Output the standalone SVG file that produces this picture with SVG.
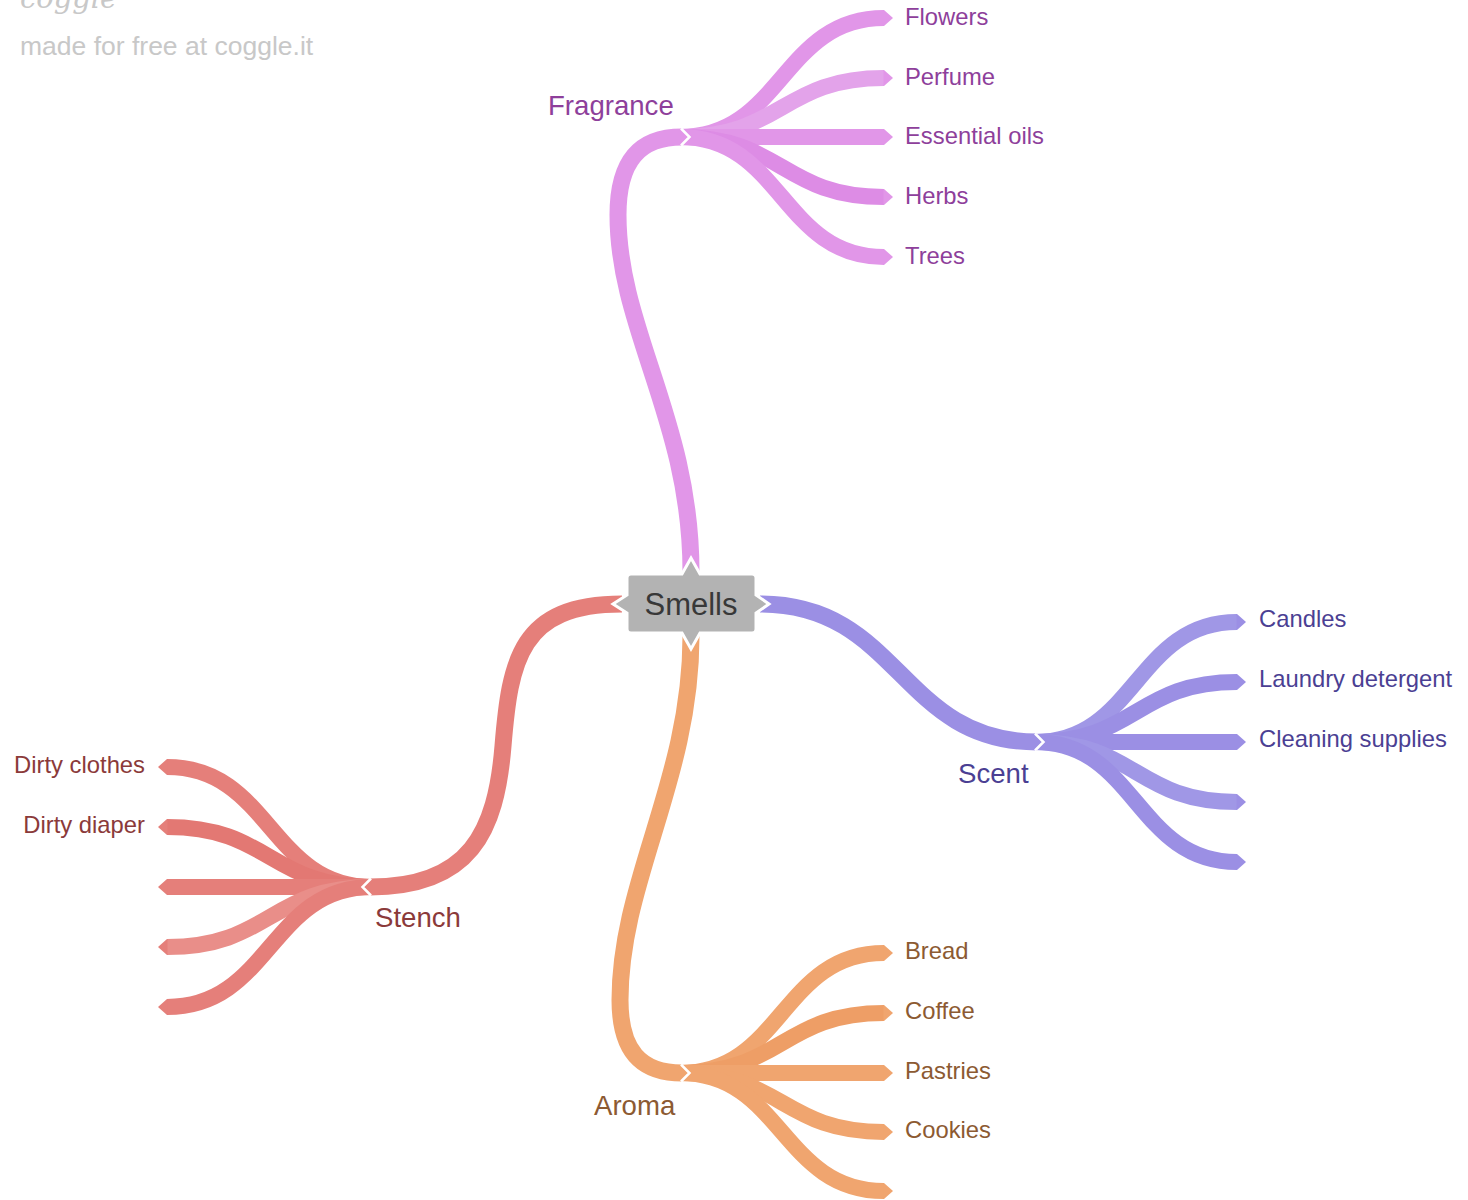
<svg xmlns="http://www.w3.org/2000/svg" width="1468" height="1200" viewBox="0 0 1468 1200">
<style>
  text { font-family: "Liberation Sans", Arial, sans-serif; }
  .br { fill: none; stroke-linecap: butt; }
  .main { stroke-width: 17; }
  .child { stroke-width: 16; }
  .pink { stroke: #e196e8; }
  .blue { stroke: #9b8fe4; }
  .red { stroke: #e57f7a; }
  .orange { stroke: #f0a56f; }
  .notch { fill: none; stroke: #ffffff; stroke-width: 2.5; stroke-linejoin: miter; }
  .lbl { font-size: 23.8px; }
  .mlbl { font-size: 27.6px; }
  .tp { fill: #8e3f9b; }
  .tb { fill: #4b3f93; }
  .tr { fill: #8b3a3a; }
  .to { fill: #8c5a32; }
</style>
<defs>
  <marker id="tipPink" markerUnits="userSpaceOnUse" markerWidth="12" markerHeight="16" refX="0" refY="8" orient="auto" overflow="visible">
    <path d="M-0.5,0 L0,0 L9,8 L0,16 L-0.5,16 Z" fill="#e196e8"/>
  </marker>
  <marker id="tipBlue" markerUnits="userSpaceOnUse" markerWidth="12" markerHeight="16" refX="0" refY="8" orient="auto" overflow="visible">
    <path d="M-0.5,0 L0,0 L9,8 L0,16 L-0.5,16 Z" fill="#9b8fe4"/>
  </marker>
  <marker id="tipRed" markerUnits="userSpaceOnUse" markerWidth="12" markerHeight="16" refX="0" refY="8" orient="auto" overflow="visible">
    <path d="M-0.5,0 L0,0 L9,8 L0,16 L-0.5,16 Z" fill="#e57f7a"/>
  </marker>
  <marker id="tipOrange" markerUnits="userSpaceOnUse" markerWidth="12" markerHeight="16" refX="0" refY="8" orient="auto" overflow="visible">
    <path d="M-0.5,0 L0,0 L9,8 L0,16 L-0.5,16 Z" fill="#f0a56f"/>
  </marker>
</defs>
<rect width="1468" height="1200" fill="#ffffff"/>

<g id="watermark">
  <text x="20" y="8" font-size="29" font-style="italic" fill="#c8c8c8" style="font-family:'DejaVu Serif', serif">coggle</text>
  <text x="20" y="55" font-size="26.5" fill="#c8c8c8">made for free at coggle.it</text>
</g>

<g id="connectors">
  <!-- main branches -->
  <path class="br main pink" d="M691,572 C691,420 618,330 618,215 C618,160 640,137 682,137"/>
  <path class="br main blue" d="M760,604 C900,604 900,742 1037,742"/>
  <path class="br main red" d="M622,604 C520,604 510,660 503,746 C496,832 470,887 370,887"/>
  <path class="br main orange" d="M691,636 C691,780 620,880 620,1000 C620,1050 640,1073 682,1073"/>

  <!-- fragrance children -->
  <path class="br child pink" d="M680,137 C782,137 782,18 884,18" marker-end="url(#tipPink)"/>
  <path class="br child pink" d="M680,137 C782,137 782,78 884,78" marker-end="url(#tipPink)" style="stroke:#e3a3ea"/>
  <path class="br child pink" d="M680,137 L884,137" marker-end="url(#tipPink)"/>
  <path class="br child pink" d="M680,137 C782,137 782,197 884,197" marker-end="url(#tipPink)" style="stroke:#dd8ce5"/>
  <path class="br child pink" d="M680,137 C782,137 782,257 884,257" marker-end="url(#tipPink)"/>
  <polyline class="notch" points="681,128.5 689.5,137 681,145.5"/>

  <!-- scent children -->
  <path class="br child blue" d="M1035,742 C1136,742 1136,622 1237,622" marker-end="url(#tipBlue)" style="stroke:#a097e6"/>
  <path class="br child blue" d="M1035,742 C1136,742 1136,682 1237,682" marker-end="url(#tipBlue)"/>
  <path class="br child blue" d="M1035,742 L1237,742" marker-end="url(#tipBlue)"/>
  <path class="br child blue" d="M1035,742 C1136,742 1136,802 1237,802" marker-end="url(#tipBlue)" style="stroke:#a097e6"/>
  <path class="br child blue" d="M1035,742 C1136,742 1136,862 1237,862" marker-end="url(#tipBlue)"/>
  <polyline class="notch" points="1035,733.5 1043.5,742 1035,750.5"/>

  <!-- stench children -->
  <path class="br child red" d="M372,887 C270,887 270,767 167,767" marker-end="url(#tipRed)"/>
  <path class="br child red" d="M372,887 C270,887 270,827 167,827" marker-end="url(#tipRed)" style="stroke:#e37873"/>
  <path class="br child red" d="M372,887 L167,887" marker-end="url(#tipRed)"/>
  <path class="br child red" d="M372,887 C270,887 270,947 167,947" marker-end="url(#tipRed)" style="stroke:#e98e89"/>
  <path class="br child red" d="M372,887 C270,887 270,1007 167,1007" marker-end="url(#tipRed)"/>
  <polyline class="notch" points="371,878.5 362.5,887 371,895.5"/>

  <!-- aroma children -->
  <path class="br child orange" d="M680,1073 C782,1073 782,953 884,953" marker-end="url(#tipOrange)"/>
  <path class="br child orange" d="M680,1073 C782,1073 782,1013 884,1013" marker-end="url(#tipOrange)" style="stroke:#ee9e66"/>
  <path class="br child orange" d="M680,1073 L884,1073" marker-end="url(#tipOrange)"/>
  <path class="br child orange" d="M680,1073 C782,1073 782,1132 884,1132" marker-end="url(#tipOrange)"/>
  <path class="br child orange" d="M680,1073 C782,1073 782,1191 884,1191" marker-end="url(#tipOrange)"/>
  <polyline class="notch" points="681,1064.5 689.5,1073 681,1081.5"/>
</g>

<g id="node-smells">
  <path d="M631,574 L682,574 L691,558 L700,574 L752,574 Q756,574 756,578 L756,595 L769,604 L756,613 L756,629 Q756,633 752,633 L700,633 L691,649 L682,633 L631,633 Q627,633 627,629 L627,613 L613,604 L627,595 L627,578 Q627,574 631,574 Z" fill="#b3b3b3" stroke="#ffffff" stroke-width="3" stroke-linejoin="miter"/>
  <text x="691" y="615" font-size="31" fill="#383838" text-anchor="middle">Smells</text>
</g>

<g id="node-fragrance"><text class="mlbl tp" x="548" y="115">Fragrance</text></g>
<g id="node-flowers"><text class="lbl tp" x="905" y="25">Flowers</text></g>
<g id="node-perfume"><text class="lbl tp" x="905" y="85">Perfume</text></g>
<g id="node-essential-oils"><text class="lbl tp" x="905" y="144">Essential oils</text></g>
<g id="node-herbs"><text class="lbl tp" x="905" y="203.5">Herbs</text></g>
<g id="node-trees"><text class="lbl tp" x="905" y="263.5">Trees</text></g>

<g id="node-scent"><text class="mlbl tb" x="958" y="783">Scent</text></g>
<g id="node-candles"><text class="lbl tb" x="1259" y="627">Candles</text></g>
<g id="node-laundry"><text class="lbl tb" x="1259" y="687">Laundry detergent</text></g>
<g id="node-cleaning"><text class="lbl tb" x="1259" y="747">Cleaning supplies</text></g>

<g id="node-stench"><text class="mlbl tr" x="375" y="927">Stench</text></g>
<g id="node-dirty-clothes"><text class="lbl tr" x="145" y="773" text-anchor="end">Dirty clothes</text></g>
<g id="node-dirty-diaper"><text class="lbl tr" x="145" y="833" text-anchor="end">Dirty diaper</text></g>

<g id="node-aroma"><text class="mlbl to" x="594" y="1115">Aroma</text></g>
<g id="node-bread"><text class="lbl to" x="905" y="959">Bread</text></g>
<g id="node-coffee"><text class="lbl to" x="905" y="1019">Coffee</text></g>
<g id="node-pastries"><text class="lbl to" x="905" y="1079">Pastries</text></g>
<g id="node-cookies"><text class="lbl to" x="905" y="1138">Cookies</text></g>
</svg>
